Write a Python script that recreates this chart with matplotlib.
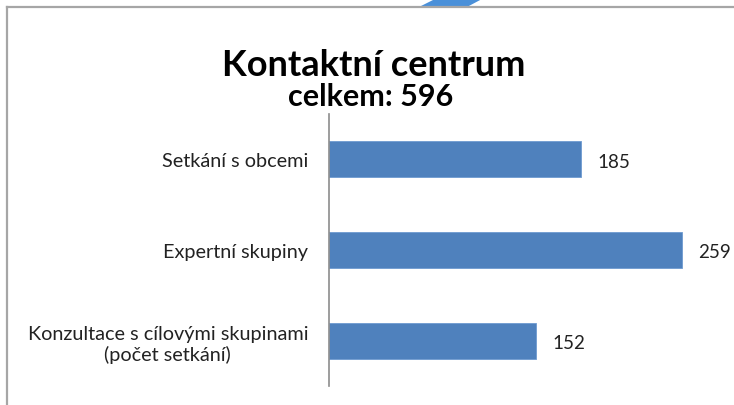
import matplotlib

matplotlib.use("Agg")
import matplotlib.pyplot as plt
from matplotlib.lines import Line2D
from matplotlib.patches import Polygon

categories = ["Setkání s obcemi", "Expertní skupiny",
              "Konzultace s cílovými skupinami\n(počet setkání)"]
values = [185, 259, 152]
title = "Kontaktní centrum"
subtitle = "celkem: 596"

W, H = 734, 406
plt.rcParams["font.family"] = ["Lato", "DejaVu Sans"]

fig = plt.figure(figsize=(W / 100, H / 100), dpi=100)
fig.patch.set_facecolor("white")


def fx(px):
    return px / W


def fy(py):
    return 1 - py / H


# slide frame and decorative stroke at the top
fig.add_artist(Line2D([fx(7), 1], [fy(8), fy(8)], color="#A6A6A6", lw=1.6))
fig.add_artist(Line2D([fx(7), fx(7)], [fy(8), 0], color="#A6A6A6", lw=1.6))
fig.add_artist(Polygon([(fx(419), fy(8)), (fx(467), fy(8)), (fx(482), fy(0)), (fx(435), fy(0))],
                       closed=True, facecolor="#4A90D9", edgecolor="none"))

ax = fig.add_axes([fx(329), fy(387), 1 - fx(329), fy(115) - fy(387)])
ypos = list(range(len(categories)))
bars = ax.barh(ypos, values, height=0.4, color="#4F81BD", edgecolor="#6E9BD0", linewidth=0.6)
ax.set_ylim(len(categories) - 0.5, -0.5)
ax.set_xlim(0, 297)
ax.set_yticks(ypos)
ax.set_yticklabels(categories, fontsize=14.3, color="#222222", ha="right", multialignment="center")
ax.tick_params(axis="y", length=0, pad=15)
ax.set_xticks([])
for side in ["top", "right", "bottom"]:
    ax.spines[side].set_visible(False)
ax.spines["left"].set_color("#8C8C8C")
ax.spines["left"].set_linewidth(1.2)
ax.patch.set_alpha(0)

for rect, val in zip(bars, values):
    ax.text(rect.get_width() + 12, rect.get_y() + rect.get_height() / 2 + 0.02, str(val),
            va="center", ha="left", fontsize=13.5, color="#222222")

fig.text(fx(374), fy(65), title, ha="center", va="center", fontsize=26, fontweight="bold", color="black")
fig.text(fx(371), fy(97), subtitle, ha="center", va="center", fontsize=22, fontweight="bold", color="black")

fig.savefig("out.png", dpi=100)
